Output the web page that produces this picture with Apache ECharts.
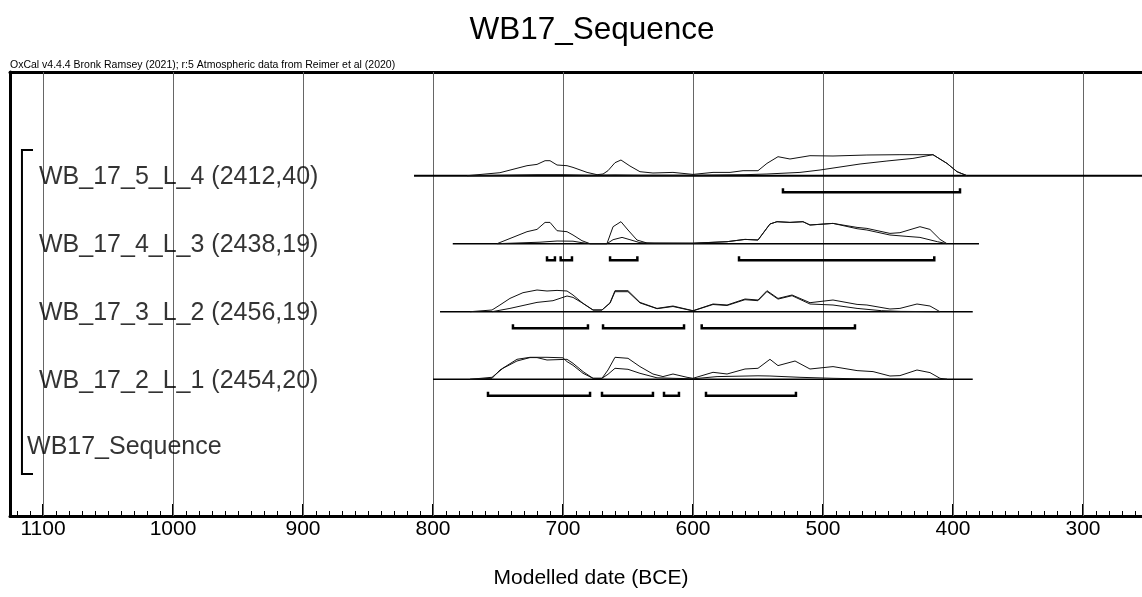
<!DOCTYPE html>
<html lang="en">
<head>
<meta charset="utf-8">
<title>WB17_Sequence</title>
<script src="https://cdn.jsdelivr.net/npm/echarts@6/dist/echarts.min.js"></script>
<style>
  html, body { margin: 0; padding: 0; background: #fff; }
  #chart { width: 1142px; height: 597px; }
</style>
</head>
<body>
<div id="chart"></div>
<script>
// row names (top to bottom)
var rowNames = ['WB_17_5_L_4 (2412,40)', 'WB_17_4_L_3 (2438,19)', 'WB_17_3_L_2 (2456,19)', 'WB_17_2_L_1 (2454,20)'];
var sequenceName = 'WB17_Sequence';

// axis ticks (years BCE)
var majorTicks = [300, 400, 500, 600, 700, 800, 900, 1000, 1100];
var minorTicks = [];
for (var t = 260; t <= 1120; t += 10) minorTicks.push(t);

// [year BCE, relative height] - outer (unmodelled) curves
var like1 = [[773.8,0],[748.5,3],[727.7,10],[720,11.3],[713.8,15],[710,15],[704.6,10.7],[696.9,10],[692.3,8.3],[681.5,3.3],[673.8,1],[669.2,1.7],[665.4,5],[660,13],[655.4,15.7],[648.5,9.7],[640.8,4],[630.8,2.7],[615.4,3.3],[600,1.3],[584.6,3.3],[571.5,3.3],[561.5,5],[550,5],[543.1,12.3],[534.6,19],[525.4,16.7],[510,20],[492.3,19.7],[466.2,20.7],[440.8,21],[420,21],[415.4,21],[404.6,12.3],[396.9,4],[389.2,0]];
var like2 = [[750.8,0],[727.7,12],[720,14.3],[713.8,21.3],[710,21.3],[704.6,13],[696.9,12],[692.3,8.7],[685.4,3],[679.2,0],[666.2,0],[661.5,17],[655.4,22],[650,13.7],[643.1,3.7],[635.4,0.7],[600,0.5],[573.8,2],[560,4.3],[550,3.7],[540.8,19.7],[535.4,22],[525.4,21.3],[515.4,22],[510,18.7],[492.3,20.3],[473.8,16.3],[466.2,15.3],[448.5,10.3],[440.8,11],[425.4,17],[417.7,14.3],[410,4.3],[404.6,0]];
var like3 = [[771.5,0],[754.6,1.7],[748.5,6.7],[740.8,13.3],[730.8,19],[720,21.7],[712.3,20.7],[704.6,21.3],[696.9,20.7],[692.3,16.7],[684.6,8.3],[676.9,1.7],[670,1.7],[663.8,9],[660,21],[650,21],[640.8,9.3],[627.7,3.3],[615.4,5.7],[600,1],[584.6,7.7],[573.8,6.7],[560,12.7],[550,11.7],[543.1,21],[534.6,13.3],[523.8,16.7],[510,9],[492.3,11.7],[473.8,7.3],[466.2,6.7],[448.5,2.7],[440.8,3.3],[427.7,7.7],[417.7,5.7],[410,0]];
var like4 = [[771.5,0],[754.6,2],[746.2,11],[735.4,18.3],[725.4,21.7],[720,21.7],[712.3,19.3],[696.9,20],[692.3,16],[684.6,7.7],[676.9,1],[670,1],[665.4,9.3],[660,22],[650,21],[640.8,12.7],[630.8,5.3],[623.1,2.7],[615.4,5.3],[604.6,2],[600,1],[584.6,7],[573.8,5.3],[560,10.3],[550,11],[540.8,20],[534.6,13.7],[521.5,18.3],[510,10.3],[492.3,12.7],[473.8,8.7],[461.5,7.7],[448.5,3.3],[440.8,3.7],[427.7,9.3],[417.7,6.7],[410,1],[404.6,0]];

// [year BCE, relative height] - modelled curves
var post1 = [[773.8,0],[748.5,0.5],[720,1],[700,1],[680,0.5],[660,0.8],[640,0.5],[600,0.5],[560,1],[543.1,1.7],[517.7,3.3],[502.3,5.7],[471.5,11.7],[450.8,14.7],[430.8,17.3],[415.4,21],[404.6,12.3],[396.9,4],[389.2,0]];
var post2 = [[750.8,0],[717.7,1.5],[704.6,2.7],[692.3,2.5],[685.4,1],[679.2,0],[666.2,0],[661.5,4],[654.6,6.3],[648.5,4],[640.8,1],[630,0.5],[600,0.5],[573.8,2],[560,4.3],[550,3.7],[540.8,19.7],[535.4,22],[525.4,21.3],[515.4,22],[510,18.7],[492.3,20.3],[473.8,15],[466.2,13.7],[448.5,8.7],[435.4,7.3],[425.4,6.3],[412,2],[404.6,0]];
var post3 = [[754.6,0],[740.8,3.3],[720,9.3],[707.7,11],[696.9,15.7],[692.3,14.3],[684.6,8.3],[676.9,1.7],[670,1.7],[663.8,8.5],[660,20],[650,20],[640.8,8.8],[627.7,3],[615.4,5.2],[600,0.8],[584.6,7.2],[573.8,6.2],[560,12],[550,11],[543.1,20.2],[534.6,12.6],[523.8,16],[510,7.7],[492.3,6.7],[473.8,3.3],[455,1],[440,0.3],[410,0]];
var post4 = [[771.5,0],[754.6,1],[748.5,9.3],[735.4,20],[725.4,22],[712.3,22],[700,21.5],[696.9,17.7],[692.3,14],[684.6,6],[676.9,1],[670,1],[665.4,5],[660,11],[650,10],[640.8,6],[627.7,1.5],[615.4,1],[600,0.5],[581.5,2.7],[550,3.5],[540.8,3.3],[517.7,2],[492.3,1],[466.2,0.3],[404.6,0]];

// highest posterior density ranges [from, to] (BCE)
var hpd1 = [[530.8,394.6]];
var hpd2 = [[712.3,706.2],[701.8,693.1],[663.8,642.8],[564.6,414.4]];
var hpd3 = [[738.5,680.8],[669.2,606.9],[593.3,475.4]];
var hpd4 = [[757.7,679.2],[670,630.8],[622.3,610.8],[590,520.8]];

// extent of each row's base line (BCE)
var spans = [[814.6,250],[784.8,380],[794.6,384.8],[800,384.8]];

var likes = [like1, like2, like3, like4];
var posts = [post1, post2, post3, post4];
var hpds = [hpd1, hpd2, hpd3, hpd4];

// layout (y values are pixels above the time axis)
var X_MIN = 254.6, X_MAX = 1125.4;
var rowBase = [340.3, 272.3, 204.3, 136.7];
var LABEL_X = 1103.1;
var FONT = '"Liberation Sans", Arial, sans-serif';

var chart = echarts.init(document.getElementById('chart'));

function lift(arr, base) {
    return arr.map(function (p) { return [p[0], base + p[1]]; });
}

var series = [];

// row base lines (+ vertical grid lines on the first one)
spans.forEach(function (s, i) {
    var item = {
        type: 'line', symbol: 'none', silent: true, z: 3,
        lineStyle: { color: '#000', width: i === 0 ? 2 : 1.5 },
        data: [[s[0], rowBase[i]], [s[1], rowBase[i]]]
    };
    if (i === 0) {
        item.markLine = {
            silent: true, symbol: 'none', label: { show: false }, z: 1,
            lineStyle: { color: '#666', width: 1, type: 'solid' },
            data: majorTicks.map(function (v) { return { xAxis: v }; })
        };
    }
    series.push(item);
});

// distributions
for (var i = 0; i < 4; i++) {
    series.push({
        type: 'line', symbol: 'none', silent: true, z: 4,
        lineStyle: { color: '#111', width: 1 },
        data: lift(likes[i], rowBase[i])
    });
    series.push({
        type: 'line', symbol: 'none', silent: true, z: 4,
        lineStyle: { color: '#111', width: 1 },
        data: lift(posts[i], rowBase[i])
    });
    hpds[i].forEach(function (r) {
        var y = rowBase[i] - 16.5;
        series.push({
            type: 'line', symbol: 'none', silent: true, z: 4,
            lineStyle: { color: '#000', width: 2.5, join: 'miter', cap: 'butt' },
            data: [[r[0], y + 4], [r[0], y], [r[1], y], [r[1], y + 4]]
        });
    });
}

// sequence bracket
series.push({
    type: 'line', symbol: 'none', silent: true, z: 4,
    lineStyle: { color: '#000', width: 2, join: 'miter' },
    data: [[1107.7, 366], [1116.2, 366], [1116.2, 42], [1107.7, 42]]
});

// row labels
var labelData = rowNames.map(function (n, i) { return { value: [LABEL_X, rowBase[i] - 1.5], name: n }; });
labelData.push({ value: [1112.3, 69], name: sequenceName });
series.push({
    type: 'scatter', symbolSize: 0, silent: true, z: 5,
    data: labelData,
    label: {
        show: true, position: 'right', distance: 0,
        formatter: function (p) { return p.name; },
        color: '#000', fontSize: 25, fontFamily: FONT
    }
});

var xBase = { type: 'value', inverse: true, min: X_MIN, max: X_MAX, splitLine: { show: false } };

chart.setOption({
    animation: false,
    backgroundColor: '#fff',
    grid: { left: 10, right: 0, top: 72, bottom: 81, containLabel: false },
    xAxis: [
        Object.assign({}, xBase, {
            position: 'bottom',
            axisLine: { onZero: false, lineStyle: { color: '#000', width: 3 } },
            axisTick: { inside: true, length: 12, customValues: majorTicks, lineStyle: { color: '#000', width: 2 } },
            axisLabel: {
                customValues: majorTicks, color: '#000', fontSize: 21, margin: 3, fontFamily: FONT,
                formatter: function (v) { return String(v); }
            }
        }),
        Object.assign({}, xBase, {
            position: 'bottom',
            axisLine: { show: false, onZero: false },
            axisTick: { inside: true, length: 5, customValues: minorTicks, lineStyle: { color: '#000', width: 1 } },
            axisLabel: { show: false }
        }),
        Object.assign({}, xBase, {
            position: 'top',
            axisLine: { onZero: false, lineStyle: { color: '#000', width: 3 } },
            axisTick: { show: false },
            axisLabel: { show: false }
        })
    ],
    yAxis: {
        type: 'value', min: 0, max: 444,
        axisLine: { show: true, onZero: false, lineStyle: { color: '#000', width: 3 } },
        axisTick: { show: false }, axisLabel: { show: false }, splitLine: { show: false }
    },
    graphic: [
        { type: 'text', x: 592, y: 30, style: { text: 'WB17_Sequence', font: '31.5px ' + FONT, fill: '#000', textAlign: 'center', textVerticalAlign: 'middle', verticalAlign: 'middle' } },
        { type: 'text', x: 10, y: 65, style: { text: 'OxCal v4.4.4 Bronk Ramsey (2021); r:5 Atmospheric data from Reimer et al (2020)', font: '10.5px ' + FONT, fill: '#000', textAlign: 'left', textVerticalAlign: 'middle', verticalAlign: 'middle' } },
        { type: 'text', x: 591, y: 578, style: { text: 'Modelled date (BCE)', font: '21px ' + FONT, fill: '#000', textAlign: 'center', textVerticalAlign: 'middle', verticalAlign: 'middle' } }
    ],
    series: series
});
</script>
</body>
</html>
